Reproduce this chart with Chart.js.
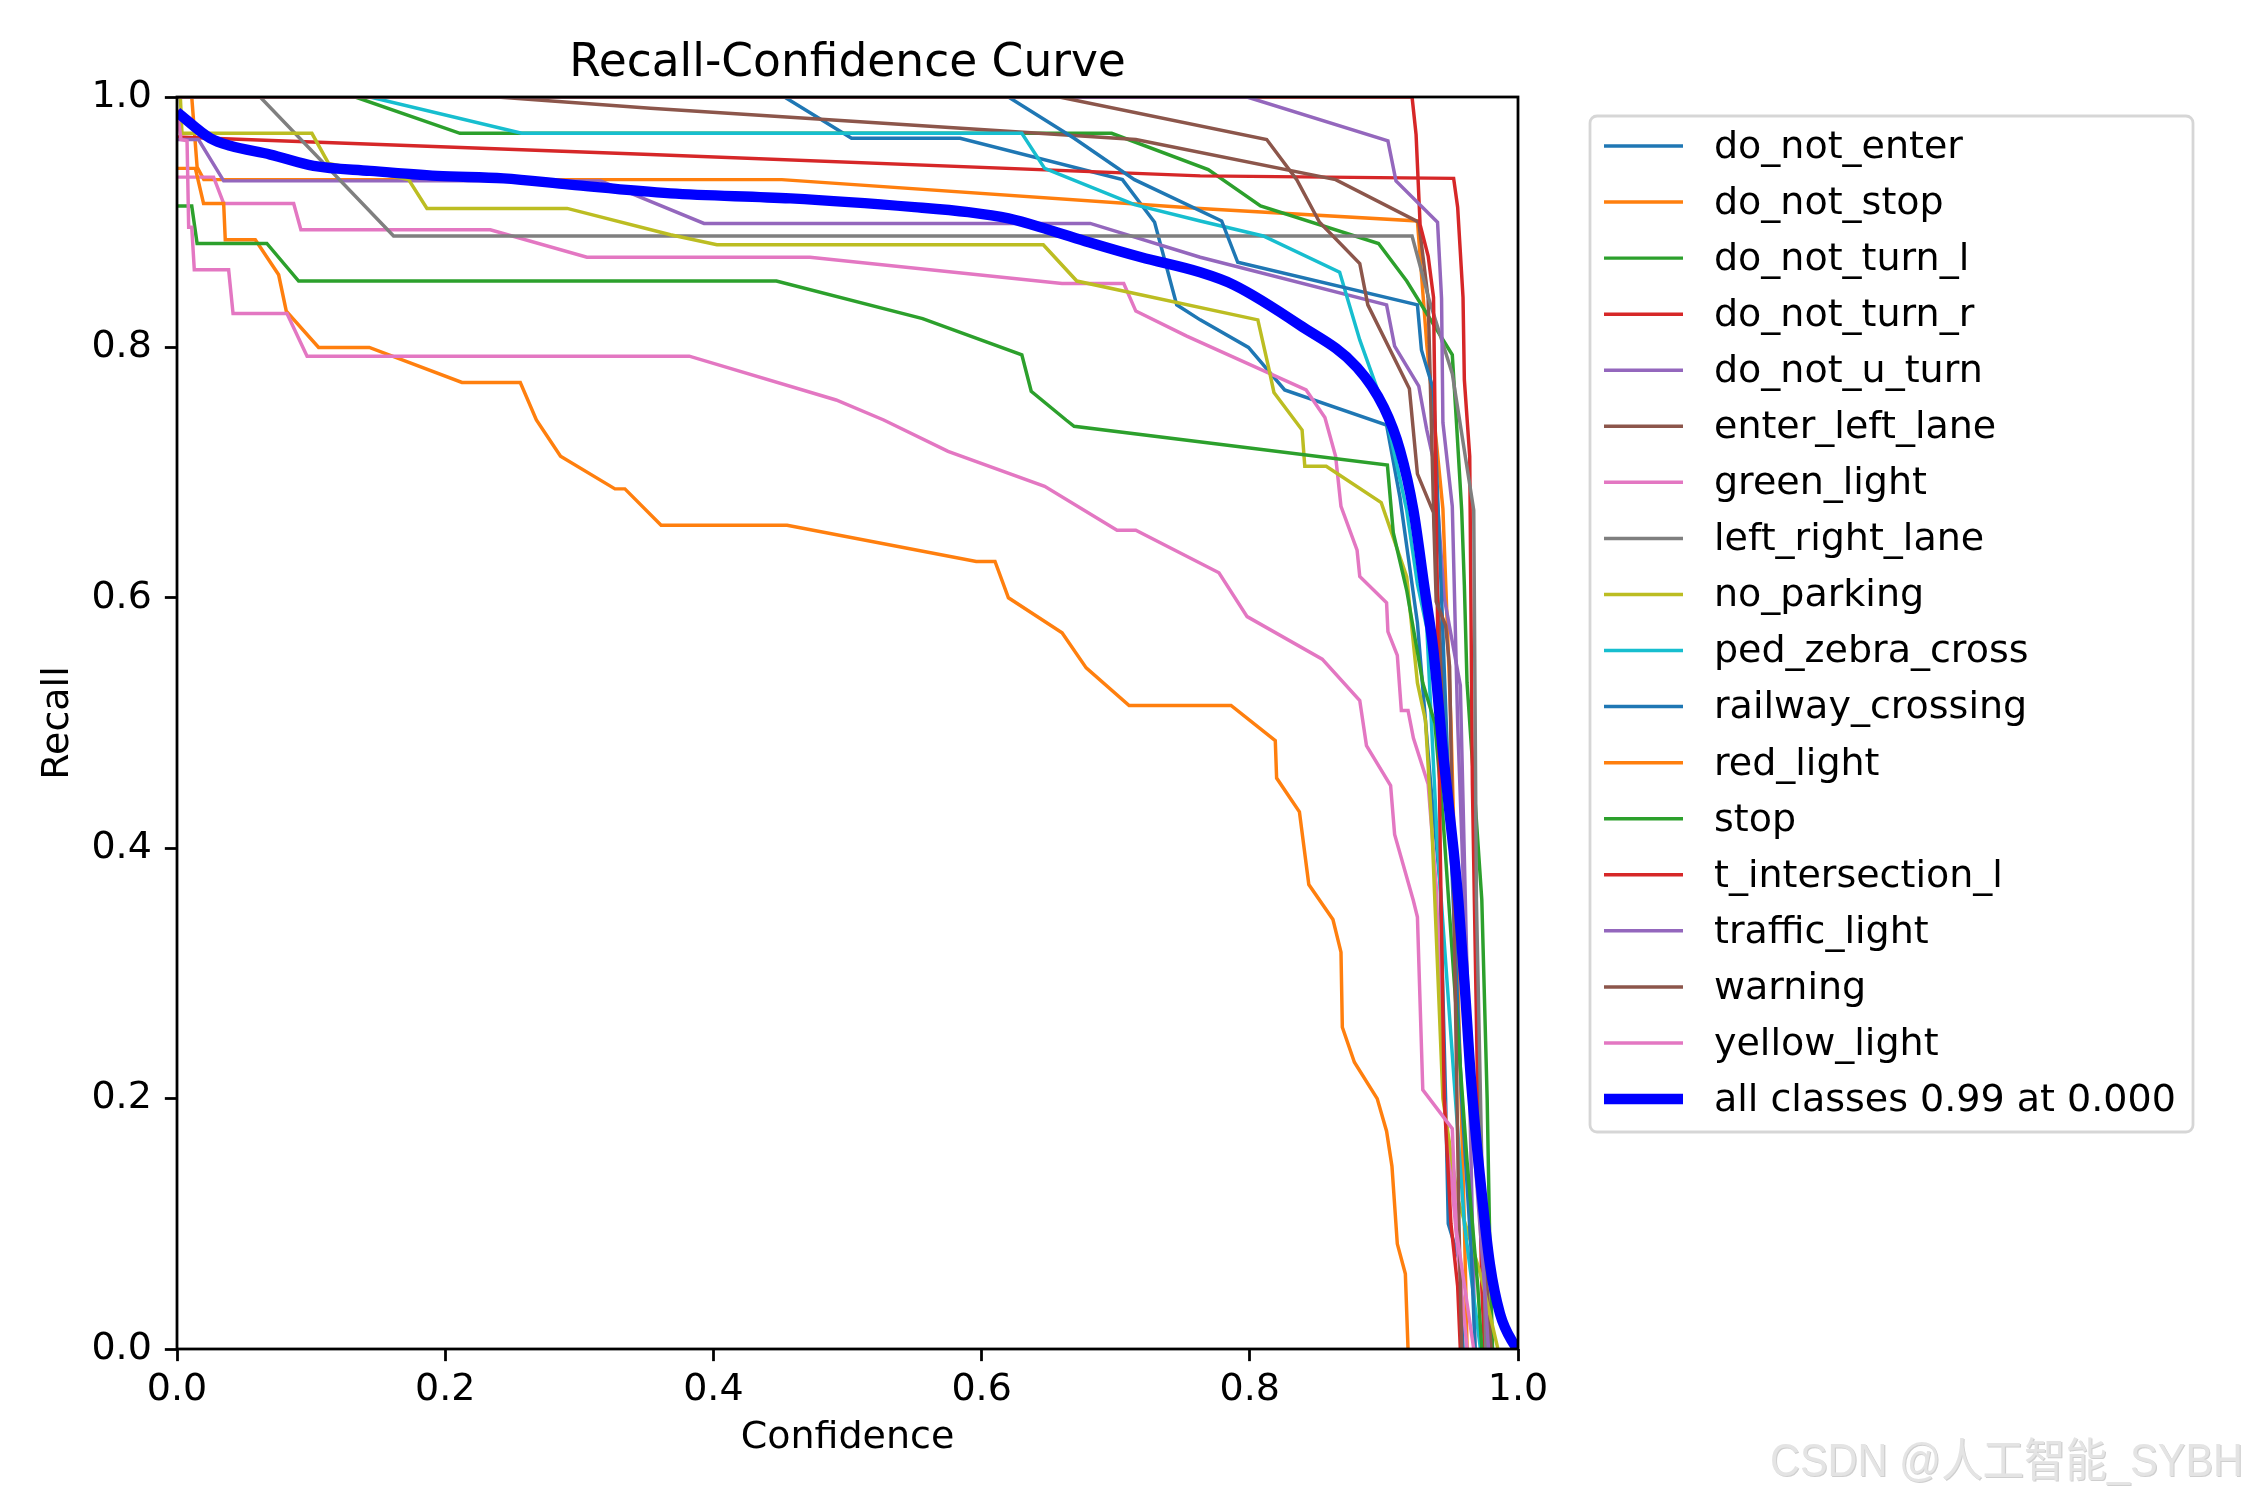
<!DOCTYPE html>
<html>
<head>
<meta charset="utf-8">
<title>Recall-Confidence Curve</title>
<script src="https://cdn.jsdelivr.net/npm/chart.js@4.4.1/dist/chart.umd.min.js"></script>
<style>
  html, body { margin: 0; padding: 0; background: #ffffff; }
  #wrap { width: 2250px; height: 1500px; }
</style>
</head>
<body>
<div id="wrap"><canvas id="curve" width="2250" height="1500"></canvas></div>
<script>
// Recall per confidence as [confidence, recall] pairs
const classNames = ['do_not_enter', 'do_not_stop', 'do_not_turn_l', 'do_not_turn_r', 'do_not_u_turn',
  'enter_left_lane', 'green_light', 'left_right_lane', 'no_parking', 'ped_zebra_cross',
  'railway_crossing', 'red_light', 'stop', 't_intersection_l', 'traffic_light', 'warning', 'yellow_light'];
const classColors = ['#1f77b4', '#ff7f0e', '#2ca02c', '#d62728', '#9467bd', '#8c564b', '#e377c2', '#7f7f7f', '#bcbd22', '#17becf',
  '#1f77b4', '#ff7f0e', '#2ca02c', '#d62728', '#9467bd', '#8c564b', '#e377c2'];

const doNotEnter = [[0,1],[0.453,1],[0.503,0.967],[0.584,0.967],[0.705,0.934],[0.729,0.90],[0.7455,0.834],[0.763,0.822],
  [0.799,0.80],[0.826,0.766],[0.902,0.738],[0.912,0.68],[0.925,0.58],[0.935,0.45],[0.942,0.37],[0.946,0.2],[0.948,0.10],[0.957,0.068],[0.959,0]];
const doNotStop = [[0,1],[0.011,1],[0.015,0.944],[0.02,0.934],[0.451,0.934],[0.763,0.911],[0.925,0.901],[0.932,0.802],
  [0.944,0.671],[0.95,0.5],[0.955,0.3],[0.96,0.1],[0.962,0]];
const doNotTurnL = [[0,1],[0.133,1],[0.211,0.971],[0.697,0.971],[0.769,0.942],[0.808,0.913],[0.896,0.883],[0.917,0.853],
  [0.951,0.794],[0.954,0.742],[0.958,0.670],[0.960,0.61],[0.962,0.532],[0.973,0.359],[0.977,0.2],[0.979,0.082],[0.981,0]];
const doNotTurnR = [[0,0.968],[0.353,0.954],[0.763,0.937],[0.952,0.935],[0.955,0.912],[0.959,0.840],[0.960,0.774],
  [0.964,0.713],[0.966,0.45],[0.970,0.2],[0.973,0.05],[0.975,0]];
const doNotUTurn = [[0,0.966],[0.016,0.966],[0.0348,0.933],[0.316,0.933],[0.393,0.899],[0.681,0.899],[0.763,0.872],
  [0.902,0.834],[0.908,0.801],[0.926,0.769],[0.932,0.734],[0.938,0.705],[0.945,0.6],[0.957,0.53],[0.962,0.3],[0.966,0.1],[0.968,0]];
const enterLeftLane = [[0,1],[0.239,1],[0.353,0.991],[0.715,0.966],[0.864,0.934],[0.926,0.90],[0.933,0.839],[0.937,0.672],
  [0.945,0.5],[0.955,0.35],[0.965,0.2],[0.975,0.08],[0.98,0]];
const greenLight = [[0,0.936],[0.0273,0.936],[0.0348,0.915],[0.087,0.915],[0.0924,0.894],[0.2336,0.894],[0.3057,0.872],
  [0.472,0.872],[0.660,0.851],[0.706,0.851],[0.715,0.829],[0.753,0.809],[0.842,0.766],[0.856,0.744],[0.864,0.713],
  [0.868,0.673],[0.880,0.638],[0.882,0.617],[0.902,0.596],[0.903,0.573],[0.910,0.554],[0.913,0.510],[0.918,0.510],
  [0.922,0.488],[0.933,0.451],[0.939,0.37],[0.945,0.2],[0.955,0.08],[0.962,0]];
const leftRightLane = [[0,1],[0.062,1],[0.1615,0.889],[0.921,0.889],[0.934,0.837],[0.951,0.779],[0.967,0.670],
  [0.969,0.358],[0.973,0.15],[0.976,0]];
const noParking = [[0,1],[0.0025,1],[0.0037,0.971],[0.1006,0.971],[0.113,0.947],[0.1727,0.934],[0.1864,0.911],[0.291,0.911],
  [0.368,0.890],[0.4026,0.882],[0.646,0.882],[0.671,0.853],[0.806,0.822],[0.814,0.784],[0.818,0.764],[0.839,0.734],
  [0.841,0.705],[0.857,0.705],[0.898,0.676],[0.917,0.617],[0.925,0.532],[0.931,0.502],[0.936,0.411],[0.938,0.358],
  [0.944,0.2],[0.955,0.12],[0.972,0.06],[0.985,0]];
const pedZebraCross = [[0,1],[0.144,1],[0.257,0.971],[0.630,0.971],[0.647,0.943],[0.714,0.914],[0.763,0.901],[0.810,0.889],
  [0.867,0.860],[0.882,0.806],[0.900,0.752],[0.906,0.724],[0.917,0.670],[0.925,0.611],[0.932,0.576],[0.94,0.4],
  [0.95,0.25],[0.96,0.1],[0.972,0]];
const railwayCrossing = [[0,1],[0.620,1],[0.669,0.967],[0.714,0.934],[0.779,0.901],[0.791,0.868],[0.925,0.834],[0.928,0.798],
  [0.937,0.766],[0.943,0.6],[0.95,0.4],[0.958,0.2],[0.965,0.08],[0.968,0]];
const redLight = [[0,0.943],[0.0137,0.943],[0.0198,0.915],[0.0348,0.915],[0.036,0.886],[0.0584,0.886],[0.0758,0.858],
  [0.0815,0.829],[0.1056,0.80],[0.1434,0.80],[0.2125,0.772],[0.256,0.772],[0.268,0.742],[0.286,0.713],[0.3266,0.687],
  [0.334,0.687],[0.361,0.658],[0.455,0.658],[0.596,0.629],[0.610,0.629],[0.620,0.600],[0.66,0.572],[0.678,0.544],
  [0.710,0.514],[0.786,0.514],[0.819,0.486],[0.820,0.456],[0.837,0.429],[0.844,0.371],[0.862,0.343],[0.868,0.317],
  [0.869,0.257],[0.878,0.229],[0.895,0.200],[0.902,0.174],[0.906,0.146],[0.910,0.084],[0.916,0.060],[0.918,0]];
const stop = [[0,0.913],[0.011,0.913],[0.015,0.883],[0.067,0.883],[0.0907,0.853],[0.447,0.853],[0.556,0.823],[0.630,0.794],
  [0.637,0.765],[0.663,0.742],[0.669,0.737],[0.9026,0.706],[0.907,0.652],[0.917,0.606],[0.929,0.532],[0.938,0.50],
  [0.944,0.425],[0.952,0.3],[0.962,0.15],[0.97,0.05],[0.973,0]];
const tIntersectionL = [[0,1],[0.921,1],[0.924,0.970],[0.927,0.898],[0.933,0.873],[0.937,0.840],[0.939,0.673],
  [0.942,0.4],[0.945,0.2],[0.950,0.1],[0.955,0.05],[0.957,0]];
const trafficLight = [[0,1],[0.798,1],[0.903,0.965],[0.909,0.933],[0.940,0.900],[0.943,0.839],[0.944,0.740],[0.951,0.673],
  [0.955,0.5],[0.96,0.35],[0.968,0.15],[0.975,0.05],[0.978,0]];
const warning = [[0,1],[0.658,1],[0.8126,0.966],[0.835,0.934],[0.852,0.90],[0.882,0.867],[0.888,0.834],[0.919,0.767],
  [0.925,0.699],[0.937,0.668],[0.939,0.597],[0.946,0.578],[0.949,0.545],[0.953,0.3],[0.956,0.1],[0.958,0]];
const yellowLight = [[0,0.99],[0.003,0.966],[0.0075,0.965],[0.0087,0.896],[0.011,0.896],[0.0129,0.862],[0.0385,0.862],
  [0.0418,0.827],[0.082,0.827],[0.097,0.793],[0.382,0.793],[0.4915,0.758],[0.527,0.742],[0.575,0.717],[0.647,0.689],
  [0.701,0.654],[0.715,0.654],[0.777,0.620],[0.798,0.585],[0.854,0.551],[0.882,0.518],[0.887,0.482],[0.905,0.450],
  [0.908,0.411],[0.922,0.358],[0.925,0.345],[0.929,0.207],[0.951,0.176],[0.954,0.095],[0.967,0]];
const allClasses = [[0,0.988],[0.0248,0.967],[0.0397,0.961],[0.0696,0.954],[0.1018,0.945],[0.1441,0.941],[0.194,0.937],
  [0.2435,0.935],[0.293,0.930],[0.368,0.923],[0.4575,0.919],[0.55,0.912],[0.59,0.908],[0.62,0.903],[0.65,0.894],
  [0.680,0.884],[0.719,0.872],[0.763,0.860],[0.788,0.850],[0.837,0.818],[0.880,0.784],[0.900,0.752],[0.912,0.718],
  [0.922,0.67],[0.930,0.61],[0.937,0.557],[0.944,0.477],[0.952,0.398],[0.9555,0.358],[0.960,0.294],[0.965,0.214],
  [0.972,0.134],[0.979,0.068],[0.9866,0.028],[0.9965,0.0046],[1.0,0]];
const allLabel = 'all classes 0.99 at 0.000';
const tickValues = [0, 0.2, 0.4, 0.6, 0.8, 1.0];

const classCurves = [doNotEnter, doNotStop, doNotTurnL, doNotTurnR, doNotUTurn, enterLeftLane, greenLight, leftRightLane,
  noParking, pedZebraCross, railwayCrossing, redLight, stop, tIntersectionL, trafficLight, warning, yellowLight];

const PT = 250 / 72;           // matplotlib points -> pixels at 250 dpi
const FONT = "'DejaVu Sans', sans-serif";
const FS = 38;                 // tick / label / legend text
const TITLE_FS = 45.5;

const toXY = pts => pts.map(p => ({ x: p[0], y: p[1] }));

const datasets = classCurves.map((pts, i) => ({
  label: classNames[i],
  data: toXY(pts),
  borderColor: classColors[i],
  borderWidth: 1 * PT,
  showLine: true,
  pointRadius: 0,
  tension: 0,
  clip: 0,
  order: classCurves.length - i   // later classes on top, like matplotlib
}));
datasets.push({
  label: allLabel,
  data: toXY(allClasses),
  borderColor: '#0000ff',
  borderWidth: 3 * PT,
  showLine: true,
  pointRadius: 0,
  cubicInterpolationMode: 'monotone',
  clip: 0,
  order: 0
});

// title, frame, legend box and watermark drawn around the chart area
const decor = {
  id: 'decor',
  afterDatasetsDraw(chart) {
    const { ctx, chartArea: a } = chart;
    ctx.save();
    ctx.strokeStyle = '#000';
    ctx.lineWidth = 0.8 * PT;
    ctx.strokeRect(a.left, a.top, a.right - a.left, a.bottom - a.top);
    ctx.restore();
  },
  afterDraw(chart) {
    const { ctx, chartArea: a } = chart;
    ctx.save();
    ctx.fillStyle = '#000';
    ctx.font = `${TITLE_FS}px ${FONT}`;
    ctx.textAlign = 'center';
    ctx.textBaseline = 'alphabetic';
    ctx.fillText('Recall-Confidence Curve', (a.left + a.right) / 2, 76);

    // legend
    const bx = 1590, by = 116, bw = 603, bh = 1016, r = 7;
    ctx.beginPath();
    ctx.roundRect(bx, by, bw, bh, r);
    ctx.fillStyle = 'rgba(255,255,255,0.8)';
    ctx.fill();
    ctx.strokeStyle = 'rgba(204,204,204,0.8)';
    ctx.lineWidth = 0.8 * PT;
    ctx.stroke();
    ctx.font = `${FS}px ${FONT}`;
    ctx.textAlign = 'left';
    ctx.textBaseline = 'middle';
    chart.data.datasets.forEach((ds, i) => {
      const y = 146 + i * 56.06;
      ctx.strokeStyle = ds.borderColor;
      ctx.lineWidth = ds.borderWidth;
      ctx.beginPath();
      ctx.moveTo(1604, y);
      ctx.lineTo(1683, y);
      ctx.stroke();
      ctx.fillStyle = '#000';
      ctx.fillText(ds.label, 1714, y + 2);
    });

    // watermark
    const wm = 'CSDN @人工智能_SYBH';
    ctx.font = "46px 'Liberation Sans', 'Noto Sans CJK SC', sans-serif";
    ctx.textBaseline = 'alphabetic';
    const w = ctx.measureText(wm).width;
    ctx.translate(1770, 1476);
    ctx.scale(473 / w, 1);
    ctx.fillStyle = '#cfcfcf';
    ctx.fillText(wm, 1.2, 1.2);
    ctx.fillStyle = '#e4e4e4';
    ctx.fillText(wm, 0, 0);
    ctx.restore();
  }
};

const axisCommon = {
  type: 'linear',
  min: 0,
  max: 1,
  afterBuildTicks: scale => { scale.ticks = tickValues.map(v => ({ value: v })); },
  grid: { drawOnChartArea: false, drawTicks: true, tickLength: 3.5 * PT, tickColor: '#000', tickWidth: 0.8 * PT },
  border: { display: false },
  ticks: { color: '#000', font: { family: FONT, size: FS }, callback: v => v.toFixed(1), maxRotation: 0, autoSkip: false }
};

new Chart(document.getElementById('curve'), {
  type: 'scatter',
  data: { datasets: datasets },
  options: {
    responsive: false,
    devicePixelRatio: 1,
    animation: false,
    events: [],
    layout: { padding: { left: 0, top: 97, right: 2250 - 1518, bottom: 0 } },
    plugins: { legend: { display: false }, title: { display: false }, tooltip: { enabled: false } },
    scales: {
      x: Object.assign({}, axisCommon, {
        position: 'bottom',
        afterFit: s => { s.height = 151; },
        ticks: Object.assign({}, axisCommon.ticks, { padding: 6 }),
        title: { display: true, text: 'Confidence', color: '#000', font: { family: FONT, size: FS }, padding: { top: 0, bottom: 39 } }
      }),
      y: Object.assign({}, axisCommon, {
        position: 'left',
        afterFit: s => { s.width = 177; },
        ticks: Object.assign({}, axisCommon.ticks, { padding: 13 }),
        title: { display: true, text: 'Recall', color: '#000', font: { family: FONT, size: FS }, padding: { top: 35, bottom: 0 } }
      })
    }
  },
  plugins: [decor]
});
</script>
</body>
</html>
